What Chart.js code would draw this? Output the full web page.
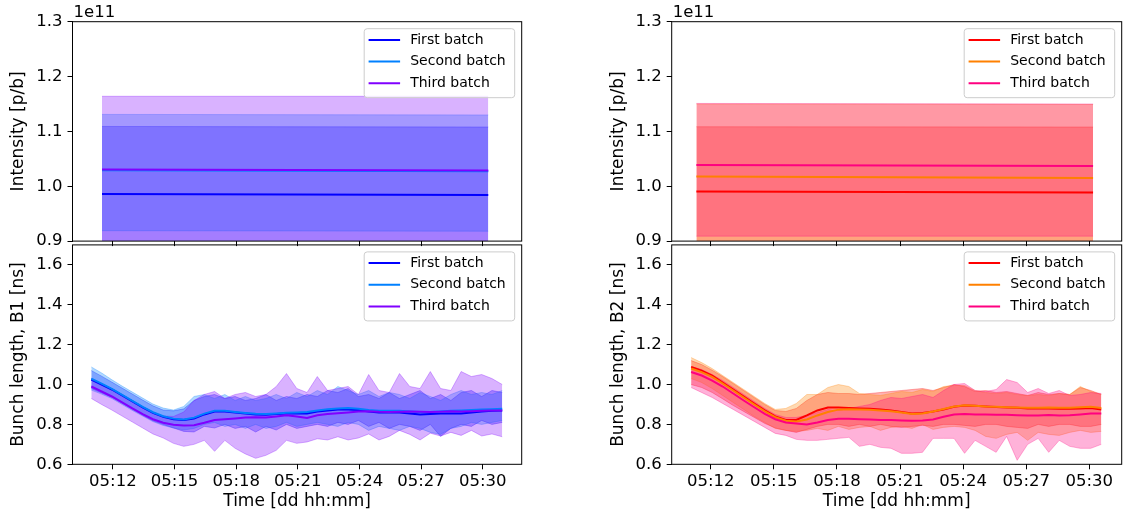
<!DOCTYPE html>
<html>
<head>
<meta charset="utf-8">
<script src="https://cdn.jsdelivr.net/npm/chart.js@4.4.0/dist/chart.umd.min.js"></script>
<style>
  body { margin: 0; background: #fff; }
  #wrap { position: relative; width: 1126px; height: 515px; overflow: hidden; }
  canvas { position: absolute; }
</style>
</head>
<body>
<div id="wrap">
  <canvas id="intB1" width="540" height="256" style="left:0px;top:0px"></canvas>
  <canvas id="lenB1" width="540" height="285" style="left:0px;top:230px"></canvas>
  <canvas id="intB2" width="526" height="256" style="left:600px;top:0px"></canvas>
  <canvas id="lenB2" width="526" height="285" style="left:600px;top:230px"></canvas>
</div>
<script>
// time axis in minutes after 05:00
const timeTickValues = [12, 15, 18, 21, 24, 27, 30];
const timeTickLabels = ['05:12', '05:15', '05:18', '05:21', '05:24', '05:27', '05:30'];
const intensityTickValues = [0.9e11, 1.0e11, 1.1e11, 1.2e11, 1.3e11];
const intensityTickLabels = ['0.9', '1.0', '1.1', '1.2', '1.3'];
const lengthTickValues = [0.6, 0.8, 1.0, 1.2, 1.4, 1.6];
const lengthTickLabels = ['0.6', '0.8', '1.0', '1.2', '1.4', '1.6'];
const batchNames = ['First batch', 'Second batch', 'Third batch'];

// intensity, beam 1
const intTimeB1 = [11.47, 30.27];
const intB1First = [0.9857e11, 0.9840e11];
const intB1FirstLo = [0.870e11, 0.870e11];
const intB1FirstUp = [1.109e11, 1.108e11];
const intB1Second = [1.0290e11, 1.0275e11];
const intB1SecondLo = [0.919e11, 0.918e11];
const intB1SecondUp = [1.131e11, 1.130e11];
const intB1Third = [1.0305e11, 1.0287e11];
const intB1ThirdLo = [0.890e11, 0.890e11];
const intB1ThirdUp = [1.164e11, 1.164e11];

// intensity, beam 2
const intTimeB2 = [11.32, 30.18];
const intB2First = [0.9904e11, 0.9886e11];
const intB2FirstLo = [0.870e11, 0.870e11];
const intB2FirstUp = [1.1085e11, 1.108e11];
const intB2Second = [1.0177e11, 1.0152e11];
const intB2SecondLo = [0.880e11, 0.880e11];
const intB2SecondUp = [1.150e11, 1.149e11];
const intB2Third = [1.0388e11, 1.0370e11];
const intB2ThirdLo = [0.909e11, 0.909e11];
const intB2ThirdUp = [1.151e11, 1.150e11];

// bunch length, beam 1
const timeB1 = [10.95, 11.45, 11.95, 12.45, 12.95, 13.45, 13.95, 14.45, 14.95, 15.45,
  15.95, 16.45, 16.95, 17.45, 17.95, 18.45, 18.95, 19.45, 19.95, 20.45,
  20.95, 21.45, 21.95, 22.45, 22.95, 23.45, 23.95, 24.45, 24.95, 25.45,
  25.95, 26.45, 26.95, 27.45, 27.95, 28.45, 28.95, 29.45, 29.95, 30.45, 30.95];
const lenB1First = [1.025, 1.000, 0.975, 0.945, 0.915, 0.885, 0.858, 0.838, 0.826, 0.822,
  0.830, 0.850, 0.865, 0.865, 0.860, 0.855, 0.850, 0.848, 0.852, 0.855,
  0.855, 0.855, 0.865, 0.870, 0.875, 0.875, 0.872, 0.865, 0.860, 0.860,
  0.860, 0.855, 0.850, 0.852, 0.855, 0.855, 0.855, 0.860, 0.865, 0.868, 0.870];
const lenB1FirstUp = [1.070, 1.042, 1.012, 0.982, 0.952, 0.922, 0.893, 0.872, 0.868, 0.878,
  0.920, 0.940, 0.950, 0.930, 0.940, 0.920, 0.930, 0.950, 0.920, 0.940,
  0.930, 0.950, 0.940, 0.970, 0.960, 0.980, 0.940, 0.950, 0.930, 0.960,
  0.930, 0.950, 0.970, 0.930, 0.950, 0.920, 0.960, 0.970, 0.940, 0.970, 0.960];
const lenB1FirstLo = [0.980, 0.958, 0.936, 0.906, 0.876, 0.846, 0.818, 0.800, 0.782, 0.765,
  0.762, 0.790, 0.782, 0.800, 0.780, 0.790, 0.762, 0.790, 0.772, 0.800,
  0.780, 0.790, 0.800, 0.790, 0.810, 0.800, 0.820, 0.790, 0.810, 0.780,
  0.800, 0.790, 0.770, 0.800, 0.740, 0.780, 0.800, 0.790, 0.820, 0.800, 0.810];
const lenB1Second = [1.030, 1.005, 0.978, 0.948, 0.918, 0.888, 0.861, 0.841, 0.829, 0.825,
  0.834, 0.854, 0.868, 0.868, 0.862, 0.857, 0.853, 0.852, 0.855, 0.858,
  0.860, 0.862, 0.870, 0.876, 0.880, 0.882, 0.878, 0.872, 0.868, 0.868,
  0.868, 0.865, 0.862, 0.862, 0.865, 0.868, 0.870, 0.872, 0.875, 0.876, 0.878];
const lenB1SecondUp = [1.088, 1.058, 1.024, 0.992, 0.962, 0.932, 0.902, 0.882, 0.872, 0.890,
  0.940, 0.950, 0.930, 0.950, 0.920, 0.940, 0.920, 0.930, 0.950, 0.930,
  0.960, 0.940, 0.970, 0.950, 0.990, 0.970, 0.950, 0.970, 0.940, 0.960,
  0.950, 0.930, 0.960, 0.940, 0.920, 0.950, 0.970, 0.950, 0.960, 0.950, 0.970];
const lenB1SecondLo = [0.972, 0.952, 0.930, 0.900, 0.870, 0.842, 0.814, 0.795, 0.782, 0.772,
  0.780, 0.800, 0.810, 0.790, 0.800, 0.780, 0.800, 0.780, 0.790, 0.810,
  0.790, 0.800, 0.810, 0.800, 0.790, 0.810, 0.800, 0.770, 0.790, 0.780,
  0.770, 0.790, 0.780, 0.760, 0.750, 0.780, 0.790, 0.810, 0.800, 0.810, 0.820];
const lenB1Third = [0.990, 0.965, 0.940, 0.910, 0.880, 0.852, 0.826, 0.808, 0.798, 0.795,
  0.796, 0.808, 0.822, 0.826, 0.830, 0.835, 0.836, 0.835, 0.840, 0.846,
  0.840, 0.832, 0.846, 0.852, 0.856, 0.860, 0.865, 0.866, 0.863, 0.862,
  0.864, 0.865, 0.863, 0.862, 0.864, 0.866, 0.865, 0.866, 0.868, 0.870, 0.870];
const lenB1ThirdUp = [1.030, 1.002, 0.972, 0.942, 0.912, 0.882, 0.855, 0.842, 0.840, 0.862,
  0.920, 0.950, 0.965, 0.930, 0.950, 0.960, 0.940, 0.950, 0.990, 1.055,
  0.980, 0.960, 1.040, 0.970, 0.980, 0.990, 0.950, 1.050, 0.970, 0.960,
  1.055, 0.990, 0.980, 1.065, 0.980, 0.970, 1.065, 1.040, 1.050, 1.030, 1.000];
const lenB1ThirdLo = [0.930, 0.900, 0.872, 0.842, 0.812, 0.782, 0.752, 0.732, 0.705, 0.690,
  0.700, 0.720, 0.665, 0.720, 0.680, 0.652, 0.630, 0.645, 0.670, 0.720,
  0.705, 0.712, 0.728, 0.722, 0.738, 0.722, 0.732, 0.752, 0.722, 0.740,
  0.770, 0.750, 0.722, 0.756, 0.742, 0.760, 0.745, 0.770, 0.742, 0.752, 0.738];

// bunch length, beam 2
const timeB2 = [11.07, 11.57, 12.07, 12.57, 13.07, 13.57, 14.07, 14.57, 15.07, 15.57,
  16.07, 16.57, 17.07, 17.57, 18.07, 18.57, 19.07, 19.57, 20.07, 20.57,
  21.07, 21.57, 22.07, 22.57, 23.07, 23.57, 24.07, 24.57, 25.07, 25.57,
  26.07, 26.57, 27.07, 27.57, 28.07, 28.57, 29.07, 29.57, 30.07, 30.57];
const lenB2First = [1.088, 1.070, 1.045, 1.010, 0.975, 0.940, 0.905, 0.870, 0.840, 0.822,
  0.822, 0.845, 0.870, 0.885, 0.885, 0.882, 0.880, 0.878, 0.875, 0.870,
  0.862, 0.855, 0.857, 0.865, 0.875, 0.888, 0.895, 0.893, 0.890, 0.887,
  0.885, 0.883, 0.880, 0.880, 0.880, 0.878, 0.878, 0.880, 0.882, 0.875];
const lenB2FirstUp = [1.120, 1.100, 1.072, 1.040, 1.005, 0.970, 0.935, 0.900, 0.870, 0.865,
  0.880, 0.920, 0.950, 0.960, 0.955, 0.955, 0.950, 0.955, 0.960, 0.965,
  0.970, 0.975, 0.980, 0.970, 0.985, 1.000, 0.990, 0.965, 0.970, 0.960,
  0.965, 0.955, 0.945, 0.960, 0.950, 0.955, 0.950, 0.985, 0.970, 0.950];
const lenB2FirstLo = [1.000, 0.985, 0.960, 0.928, 0.895, 0.865, 0.835, 0.805, 0.782, 0.770,
  0.760, 0.775, 0.790, 0.800, 0.800, 0.790, 0.800, 0.790, 0.800, 0.790,
  0.785, 0.790, 0.795, 0.790, 0.800, 0.800, 0.795, 0.790, 0.800, 0.800,
  0.790, 0.785, 0.780, 0.800, 0.790, 0.800, 0.800, 0.790, 0.790, 0.800];
const lenB2Second = [1.080, 1.062, 1.038, 1.005, 0.970, 0.935, 0.900, 0.866, 0.836, 0.818,
  0.815, 0.825, 0.845, 0.862, 0.874, 0.876, 0.875, 0.873, 0.870, 0.866,
  0.860, 0.852, 0.855, 0.865, 0.877, 0.890, 0.896, 0.894, 0.890, 0.888,
  0.886, 0.885, 0.884, 0.884, 0.885, 0.884, 0.884, 0.886, 0.888, 0.882];
const lenB2SecondUp = [1.135, 1.110, 1.080, 1.045, 1.010, 0.975, 0.940, 0.905, 0.875, 0.880,
  0.905, 0.950, 0.950, 0.985, 1.000, 0.990, 0.955, 0.950, 0.945, 0.955,
  0.965, 0.960, 0.975, 0.965, 0.990, 0.995, 0.995, 0.970, 0.960, 0.955,
  0.960, 0.950, 0.945, 0.950, 0.945, 0.955, 0.950, 0.990, 0.965, 0.950];
const lenB2SecondLo = [1.030, 1.010, 0.980, 0.945, 0.910, 0.875, 0.840, 0.810, 0.780, 0.770,
  0.765, 0.770, 0.780, 0.770, 0.790, 0.775, 0.785, 0.790, 0.770, 0.785,
  0.790, 0.780, 0.800, 0.775, 0.785, 0.790, 0.785, 0.770, 0.740, 0.730,
  0.750, 0.760, 0.720, 0.760, 0.750, 0.745, 0.760, 0.770, 0.760, 0.765];
const lenB2Third = [1.063, 1.045, 1.020, 0.990, 0.955, 0.920, 0.886, 0.853, 0.826, 0.810,
  0.805, 0.800, 0.810, 0.822, 0.828, 0.828, 0.826, 0.824, 0.822, 0.822,
  0.820, 0.818, 0.820, 0.825, 0.838, 0.850, 0.852, 0.850, 0.850, 0.848,
  0.848, 0.846, 0.845, 0.845, 0.847, 0.845, 0.846, 0.850, 0.855, 0.855];
const lenB2ThirdUp = [1.090, 1.075, 1.050, 1.020, 0.985, 0.950, 0.915, 0.880, 0.850, 0.835,
  0.835, 0.845, 0.860, 0.875, 0.870, 0.880, 0.890, 0.900, 0.920, 0.935,
  0.930, 0.940, 0.950, 0.935, 0.970, 1.000, 1.005, 0.970, 0.965, 0.975,
  1.025, 1.010, 0.960, 0.980, 0.955, 0.970, 0.945, 0.950, 0.960, 0.955];
const lenB2ThirdLo = [0.985, 0.960, 0.935, 0.905, 0.875, 0.845, 0.815, 0.785, 0.755, 0.745,
  0.725, 0.720, 0.720, 0.725, 0.730, 0.735, 0.690, 0.700, 0.685, 0.680,
  0.655, 0.655, 0.660, 0.730, 0.730, 0.730, 0.655, 0.720, 0.690, 0.660,
  0.740, 0.620, 0.700, 0.730, 0.660, 0.720, 0.690, 0.680, 0.680, 0.700];

const coloursB1 = ['0,0,255', '0,128,255', '128,0,255'];
const coloursB2 = ['255,0,0', '255,128,0', '255,0,128'];

Chart.defaults.font.family = "'DejaVu Sans', sans-serif";
Chart.defaults.color = '#000';

const pts = (times, vals) => times.map((t, i) => ({ x: t, y: vals[i] }));

function band(times, lo, up, rgb, order) {
  const c = 'rgba(' + rgb + ',0.3)';
  return [
    { data: pts(times, lo), borderColor: c, borderWidth: 1, pointRadius: 0, fill: false, order: order },
    { data: pts(times, up), borderColor: c, borderWidth: 1, pointRadius: 0, fill: '-1', backgroundColor: c, order: order }
  ];
}

function line(times, vals, rgb, label, order) {
  return { label: label, data: pts(times, vals), borderColor: 'rgb(' + rgb + ')', borderWidth: 2,
    pointRadius: 0, tension: 0, fill: false, order: order };
}

// box round the plot area, like matplotlib spines
const frame = {
  id: 'frame',
  afterDraw(chart) {
    const { ctx, chartArea: a } = chart;
    ctx.save();
    ctx.strokeStyle = '#000';
    ctx.lineWidth = 1;
    ctx.strokeRect(a.left, a.top, a.right - a.left, a.bottom - a.top);
    ctx.restore();
  }
};

// the "1e11" offset text over the y axis
const offsetText = {
  id: 'offsetText',
  afterDraw(chart, args, opts) {
    if (!opts.text) return;
    const { ctx, chartArea: a } = chart;
    ctx.save();
    ctx.font = "16.5px 'DejaVu Sans'";
    ctx.fillStyle = '#000';
    ctx.textBaseline = 'alphabetic';
    ctx.fillText(opts.text, a.left + 1, a.top - 5);
    ctx.restore();
  }
};

// legend box inside the upper right corner
const batchLegend = {
  id: 'batchLegend',
  afterDraw(chart, args, opts) {
    const { ctx, chartArea: a } = chart;
    const w = 150.5, h = 69, r = 3;
    const x = a.right - 7 - w, y = a.top + 7;
    ctx.save();
    ctx.beginPath();
    ctx.moveTo(x + r, y);
    ctx.arcTo(x + w, y, x + w, y + h, r);
    ctx.arcTo(x + w, y + h, x, y + h, r);
    ctx.arcTo(x, y + h, x, y, r);
    ctx.arcTo(x, y, x + w, y, r);
    ctx.closePath();
    ctx.fillStyle = 'rgba(255,255,255,0.8)';
    ctx.fill();
    ctx.strokeStyle = '#cccccc';
    ctx.lineWidth = 1;
    ctx.stroke();
    ctx.font = "14px 'DejaVu Sans'";
    ctx.textBaseline = 'middle';
    opts.items.forEach((it, i) => {
      const cy = y + 11.2 + i * 21.7;
      ctx.strokeStyle = 'rgb(' + it.rgb + ')';
      ctx.lineWidth = 2;
      ctx.beginPath();
      ctx.moveTo(x + 4.4, cy);
      ctx.lineTo(x + 35.9, cy);
      ctx.stroke();
      ctx.fillStyle = '#000';
      ctx.fillText(it.label, x + 46, cy);
    });
    ctx.restore();
  }
};

const tickGrid = { display: true, drawOnChartArea: false, drawTicks: true, tickLength: 5, tickWidth: 1, tickColor: '#000' };

function panel(id, p) {
  new Chart(document.getElementById(id), {
    type: 'line',
    data: { datasets: p.datasets },
    options: {
      responsive: false,
      animation: false,
      events: [],
      layout: { padding: { top: p.padTop, right: p.padRight, left: 0, bottom: 0 } },
      plugins: {
        legend: { display: false },
        tooltip: { enabled: false },
        offsetText: { text: p.offsetText },
        batchLegend: { items: p.legend }
      },
      scales: {
        x: {
          type: 'linear',
          min: p.xMin,
          max: p.xMax,
          afterBuildTicks: s => { s.ticks = timeTickValues.map(v => ({ value: v })); },
          afterFit: s => { s.height = p.xHeight; },
          grid: tickGrid,
          border: { display: false },
          ticks: { display: p.showX, autoSkip: false, maxRotation: 0, padding: 3,
            font: { size: 16.5 }, callback: (v, i) => timeTickLabels[i] },
          title: { display: p.showX, text: 'Time [dd hh:mm]', font: { size: 17 }, padding: { top: 0, bottom: 3 } }
        },
        y: {
          min: p.yMin,
          max: p.yMax,
          afterBuildTicks: s => { s.ticks = p.yTicks.map(v => ({ value: v })); },
          afterFit: s => { s.width = p.yWidth; },
          grid: tickGrid,
          border: { display: false },
          ticks: { autoSkip: false, padding: 5, font: { size: 16.5 }, callback: (v, i) => p.yLabels[i] },
          title: { display: true, text: p.yTitle, font: { size: 17 }, padding: { top: 8, bottom: 0 } }
        }
      }
    },
    plugins: [frame, offsetText, batchLegend]
  });
}

function datasetsFor(times, sets, colours) {
  const out = [];
  sets.forEach((s, k) => { out.push(...band(times, s.lo, s.up, colours[k], 9 - k)); });
  sets.forEach((s, k) => { out.push(line(times, s.mean, colours[k], batchNames[k], 3 - k)); });
  return out;
}

const legendB1 = batchNames.map((n, k) => ({ label: n, rgb: coloursB1[k] }));
const legendB2 = batchNames.map((n, k) => ({ label: n, rgb: coloursB2[k] }));

const xB1 = { xMin: 10.035, xMax: 31.897 };
const xB2 = { xMin: 10.146, xMax: 31.54 };

panel('intB1', Object.assign({}, xB1, {
  datasets: datasetsFor(intTimeB1, [
    { mean: intB1First, lo: intB1FirstLo, up: intB1FirstUp },
    { mean: intB1Second, lo: intB1SecondLo, up: intB1SecondUp },
    { mean: intB1Third, lo: intB1ThirdLo, up: intB1ThirdUp }
  ], coloursB1),
  padTop: 21.7, padRight: 18.3, yWidth: 72.5, xHeight: 12.7, showX: false,
  yMin: 0.9e11, yMax: 1.3e11, yTicks: intensityTickValues, yLabels: intensityTickLabels,
  yTitle: 'Intensity [p/b]', offsetText: '1e11', legend: legendB1
}));

panel('lenB1', Object.assign({}, xB1, {
  datasets: datasetsFor(timeB1, [
    { mean: lenB1First, lo: lenB1FirstLo, up: lenB1FirstUp },
    { mean: lenB1Second, lo: lenB1SecondLo, up: lenB1SecondUp },
    { mean: lenB1Third, lo: lenB1ThirdLo, up: lenB1ThirdUp }
  ], coloursB1),
  padTop: 13.3, padRight: 18.3, yWidth: 72.5, xHeight: 50.7, showX: true,
  yMin: 0.6, yMax: 1.7, yTicks: lengthTickValues, yLabels: lengthTickLabels,
  yTitle: 'Bunch length, B1 [ns]', offsetText: '', legend: legendB1
}));

panel('intB2', Object.assign({}, xB2, {
  datasets: datasetsFor(intTimeB2, [
    { mean: intB2First, lo: intB2FirstLo, up: intB2FirstUp },
    { mean: intB2Second, lo: intB2SecondLo, up: intB2SecondUp },
    { mean: intB2Third, lo: intB2ThirdLo, up: intB2ThirdUp }
  ], coloursB2),
  padTop: 21.7, padRight: 4.3, yWidth: 71.7, xHeight: 12.7, showX: false,
  yMin: 0.9e11, yMax: 1.3e11, yTicks: intensityTickValues, yLabels: intensityTickLabels,
  yTitle: 'Intensity [p/b]', offsetText: '1e11', legend: legendB2
}));

panel('lenB2', Object.assign({}, xB2, {
  datasets: datasetsFor(timeB2, [
    { mean: lenB2First, lo: lenB2FirstLo, up: lenB2FirstUp },
    { mean: lenB2Second, lo: lenB2SecondLo, up: lenB2SecondUp },
    { mean: lenB2Third, lo: lenB2ThirdLo, up: lenB2ThirdUp }
  ], coloursB2),
  padTop: 13.3, padRight: 4.3, yWidth: 71.7, xHeight: 50.7, showX: true,
  yMin: 0.6, yMax: 1.7, yTicks: lengthTickValues, yLabels: lengthTickLabels,
  yTitle: 'Bunch length, B2 [ns]', offsetText: '', legend: legendB2
}));
</script>
</body>
</html>
